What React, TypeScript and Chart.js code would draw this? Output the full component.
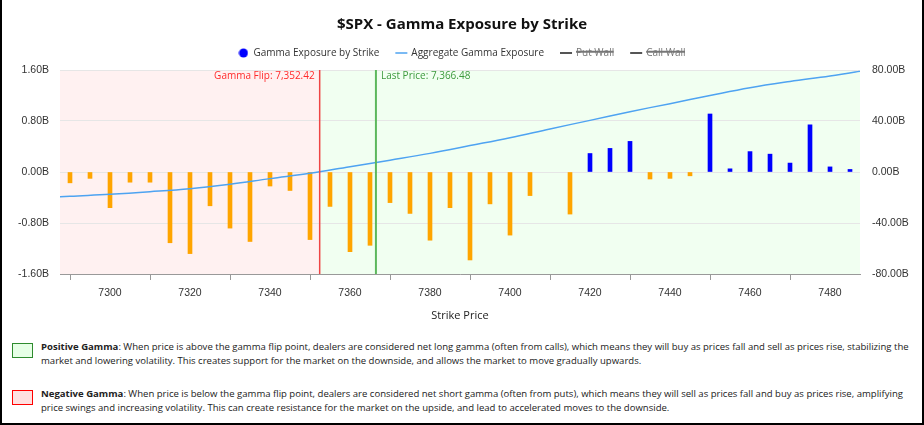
import React, { useEffect, useRef } from 'react';
import { Chart, registerables } from 'chart.js';

Chart.register(...registerables);

// ---- Data ----
const strikes = [
  7290, 7295, 7300, 7305, 7310, 7315, 7320, 7325, 7330, 7335,
  7340, 7345, 7350, 7355, 7360, 7365, 7370, 7375, 7380, 7385,
  7390, 7395, 7400, 7405, 7415, 7420, 7425, 7430, 7435,
  7440, 7445, 7450, 7455, 7460, 7465, 7470, 7475, 7480, 7485,
];
// Gamma exposure by strike, in billions
const gexValues = [
  -0.17, -0.10, -0.56, -0.16, -0.16, -1.11, -1.28, -0.53, -0.88, -1.09,
  -0.22, -0.29, -1.06, -0.54, -1.25, -1.15, -0.48, -0.65, -1.07, -0.56,
  -1.38, -0.50, -0.99, -0.37, -0.66, 0.29, 0.37, 0.48, -0.11,
  -0.10, -0.06, 0.91, 0.05, 0.32, 0.28, 0.14, 0.74, 0.08, 0.04,
];
// Aggregate gamma exposure profile, in billions
const aggPrices = [
  7285, 7290, 7300, 7310, 7320, 7330, 7340, 7350, 7360, 7370, 7380,
  7390, 7400, 7410, 7420, 7430, 7440, 7450, 7460, 7470, 7480, 7490,
];
const aggValues = [
  -19.9, -19.0, -17.5, -15.5, -13.1, -9.6, -5.2, -1.0, 4.2, 9.3, 14.6,
  20.7, 26.9, 33.8, 40.5, 47.3, 53.6, 60.0, 66.1, 71.0, 75.3, 80.4,
];
const gammaFlip = 7352.42;
const lastPrice = 7366.48;
const xMin = 7287.5;
const xMax = 7487.5;
const xTicks = [7300, 7320, 7340, 7360, 7380, 7400, 7420, 7440, 7460, 7480];
const yTicksLeft = [-1.6, -0.8, 0, 0.8, 1.6];
const yTicksRight = [-80, -40, 0, 40, 80];

const POS_COLOR = '#0000ff';
const NEG_COLOR = '#ffa500';
const AGG_COLOR = '#4ea3f1';
const WALL_COLOR = '#555555';

const fmtNum = (v: number) =>
  v.toLocaleString('en-US', { minimumFractionDigits: 2, maximumFractionDigits: 2 });

function makeDot(color: string, d: number) {
  const c = document.createElement('canvas');
  c.width = d + 1;
  c.height = d + 1;
  const g = c.getContext('2d')!;
  g.fillStyle = color;
  g.beginPath();
  g.arc((d + 1) / 2, (d + 1) / 2, d / 2, 0, Math.PI * 2);
  g.fill();
  return c;
}

const regionsPlugin = {
  id: 'gammaRegions',
  beforeInit(chart: any) {
    const legend = chart.legend;
    if (legend) {
      const origFit = legend.fit.bind(legend);
      legend.fit = function () {
        origFit();
        this.height = 39;
      };
    }
  },
  beforeDraw(chart: any) {
    const { ctx, chartArea, scales } = chart;
    const { left, right, top, bottom } = chartArea;
    const fx = scales.x.getPixelForValue(gammaFlip);
    ctx.save();
    ctx.fillStyle = 'rgba(255, 0, 0, 0.055)';
    ctx.fillRect(left, top, fx - left, bottom - top);
    ctx.fillStyle = 'rgba(0, 255, 0, 0.055)';
    ctx.fillRect(fx, top, right - fx, bottom - top);
    ctx.restore();
  },
  afterDatasetsDraw(chart: any) {
    const { ctx, chartArea, scales } = chart;
    const { top, bottom } = chartArea;
    const fx = scales.x.getPixelForValue(gammaFlip);
    const lx = scales.x.getPixelForValue(lastPrice);
    ctx.save();
    ctx.lineWidth = 1.5;
    ctx.strokeStyle = '#ef4444';
    ctx.beginPath();
    ctx.moveTo(fx, top);
    ctx.lineTo(fx, bottom);
    ctx.stroke();
    ctx.strokeStyle = '#5cb85c';
    ctx.lineWidth = 2;
    ctx.beginPath();
    ctx.moveTo(lx, top);
    ctx.lineTo(lx, bottom);
    ctx.stroke();
    ctx.font = '10px "Open Sans"';
    ctx.textBaseline = 'middle';
    ctx.fillStyle = '#ff2a2a';
    ctx.textAlign = 'right';
    ctx.fillText('Gamma Flip: ' + fmtNum(gammaFlip), fx - 5, top + 6);
    ctx.fillStyle = '#3d9a3d';
    ctx.textAlign = 'left';
    ctx.fillText('Last Price: ' + fmtNum(lastPrice), lx + 5, top + 6);
    ctx.restore();
  },
};

function GammaChart() {
  const ref = useRef<HTMLCanvasElement | null>(null);
  useEffect(() => {
    if (!ref.current) return;
    const barData = strikes.map((s, i) => ({ x: s, y: gexValues[i] }));
    const lineData = aggPrices.map((p, i) => ({ x: p, y: aggValues[i] }));
    const chart = new Chart(ref.current, {
      type: 'bar',
      data: {
        datasets: [
          {
            type: 'bar',
            label: 'Gamma Exposure by Strike',
            data: barData,
            backgroundColor: gexValues.map((v) => (v >= 0 ? POS_COLOR : NEG_COLOR)),
            borderWidth: 0,
            barThickness: 4,
            yAxisID: 'y',
            pointStyle: makeDot(POS_COLOR, 9),
            legendColor: POS_COLOR,
            order: 2,
          } as any,
          {
            type: 'line',
            label: 'Aggregate Gamma Exposure',
            data: lineData,
            borderColor: AGG_COLOR,
            backgroundColor: AGG_COLOR,
            borderWidth: 1.5,
            pointRadius: 0,
            pointStyle: 'line',
            tension: 0.4,
            yAxisID: 'y1',
            order: 1,
          } as any,
          {
            type: 'line',
            label: 'Put Wall',
            data: [],
            borderColor: WALL_COLOR,
            backgroundColor: WALL_COLOR,
            borderWidth: 2,
            pointRadius: 0,
            pointStyle: 'line',
            hidden: true,
            yAxisID: 'y1',
            order: 3,
          } as any,
          {
            type: 'line',
            label: 'Call Wall',
            data: [],
            borderColor: WALL_COLOR,
            backgroundColor: WALL_COLOR,
            borderWidth: 2,
            pointRadius: 0,
            pointStyle: 'line',
            hidden: true,
            yAxisID: 'y1',
            order: 4,
          } as any,
        ],
      },
      options: {
        animation: false,
        responsive: false,
        maintainAspectRatio: false,
        layout: { padding: { top: 0, left: 0, right: 0, bottom: 0 } },
        plugins: {
          title: {
            display: true,
            text: '$SPX - Gamma Exposure by Strike',
            color: '#111',
            font: { family: 'Open Sans', size: 15, weight: 'bold' },
            padding: { top: 16, bottom: -3 },
          },
          legend: {
            display: true,
            labels: {
              usePointStyle: true,
              boxHeight: 8.5,
              color: '#333',
              padding: 17,
              font: { family: 'Open Sans', size: 10 },
              sort: (a: any, b: any) => a.datasetIndex - b.datasetIndex,
              generateLabels(chart: any) {
                const items = (Chart.defaults.plugins.legend.labels as any).generateLabels(chart);
                items.forEach((it: any) => {
                  const ds: any = chart.data.datasets[it.datasetIndex];
                  if (ds.legendColor) {
                    it.fillStyle = ds.legendColor;
                    it.strokeStyle = ds.legendColor;
                  }
                  if (it.hidden) it.fontColor = '#777';
                });
                return items;
              },
            },
          },
          tooltip: { enabled: false },
        },
        scales: {
          x: {
            type: 'linear',
            min: xMin,
            max: xMax,
            offset: false,
            afterBuildTicks: (scale: any) => {
              scale.ticks = xTicks.map((v) => ({ value: v }));
            },
            afterFit: (scale: any) => {
              scale.height = 56;
            },
            grid: {
              drawOnChartArea: false,
              drawTicks: true,
              tickLength: 6,
              color: '#999',
            },
            border: { display: true, color: '#999', width: 1 },
            ticks: {
              color: '#333',
              padding: 7,
              font: { family: 'Liberation Sans', size: 10.5 },
              callback: (v: any) => String(v),
            },
            title: {
              display: true,
              text: 'Strike Price',
              color: '#222',
              font: { family: 'Open Sans', size: 11 },
              padding: { top: 0, bottom: 8 },
            },
          },
          y: {
            type: 'linear',
            position: 'left',
            min: -1.6,
            max: 1.6,
            afterBuildTicks: (scale: any) => {
              scale.ticks = yTicksLeft.map((v) => ({ value: v }));
            },
            afterFit: (scale: any) => {
              scale.width = 60;
            },
            grid: { color: '#e6e6e6', drawTicks: false },
            border: { display: false },
            ticks: {
              color: '#333',
              padding: 11,
              font: { family: 'Liberation Sans', size: 10.5 },
              callback: (v: any) => Number(v).toFixed(2) + 'B',
            },
          },
          y1: {
            type: 'linear',
            position: 'right',
            min: -80,
            max: 80,
            afterBuildTicks: (scale: any) => {
              scale.ticks = yTicksRight.map((v) => ({ value: v }));
            },
            afterFit: (scale: any) => {
              scale.width = 64;
            },
            grid: { display: false, drawTicks: false },
            border: { display: false },
            ticks: {
              color: '#333',
              padding: 12,
              font: { family: 'Liberation Sans', size: 10.5 },
              callback: (v: any) => Number(v).toFixed(2) + 'B',
            },
          },
        },
      } as any,
      plugins: [regionsPlugin as any],
    });
    return () => chart.destroy();
  }, []);
  return (
    <canvas
      ref={ref}
      width={924}
      height={330}
      style={{ position: 'absolute', left: 0, top: 0, width: 924, height: 330 }}
    />
  );
}

const textStyle: React.CSSProperties = {
  position: 'absolute',
  left: 41,
  fontFamily: '"Open Sans", sans-serif',
  fontSize: 9.55,
  lineHeight: '13.5px',
  color: '#222',
  whiteSpace: 'nowrap',
};

export default function App() {
  return (
    <div
      style={{
        position: 'absolute',
        left: 0,
        top: 0,
        width: 924,
        height: 425,
        background: '#fff',
        overflow: 'hidden',
      }}
    >
      <GammaChart />
      <div
        style={{
          position: 'absolute',
          left: 12,
          top: 343,
          width: 19,
          height: 13,
          background: '#e6ffe6',
          border: '1px solid #2e8b2e',
        }}
      />
      <div style={{ ...textStyle, top: 340 }}>
        <b>Positive Gamma</b>: When price is above the gamma flip point, dealers are considered net long gamma (often from calls), which means they will buy as prices fall and sell as prices rise, stabilizing the
        <br />
        market and lowering volatility. This creates support for the market on the downside, and allows the market to move gradually upwards.
      </div>
      <div
        style={{
          position: 'absolute',
          left: 12,
          top: 390,
          width: 19,
          height: 13,
          background: '#ffe0e0',
          border: '1px solid #ff0000',
        }}
      />
      <div style={{ ...textStyle, top: 387 }}>
        <b>Negative Gamma</b>: When price is below the gamma flip point, dealers are considered net short gamma (often from puts), which means they will sell as prices fall and buy as prices rise, amplifying
        <br />
        price swings and increasing volatility. This can create resistance for the market on the upside, and lead to accelerated moves to the downside.
      </div>
      <div
        style={{
          position: 'absolute',
          left: 0,
          top: 0,
          width: 924,
          height: 425,
          boxSizing: 'border-box',
          borderLeft: '2px solid #000',
          borderRight: '2px solid #000',
          borderBottom: '2px solid #000',
          pointerEvents: 'none',
        }}
      />
    </div>
  );
}
